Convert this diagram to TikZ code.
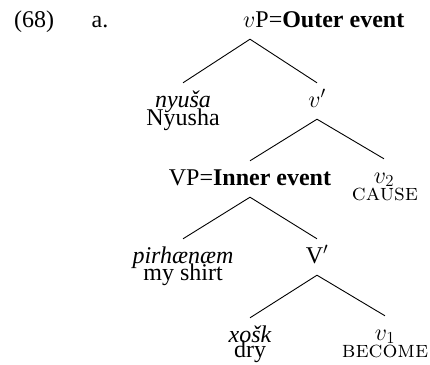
\documentclass[tikz,border=0pt]{standalone}
\usepackage{fix-cm}
\usepackage{fontspec}
\newfontfamily\tnr{Liberation Serif}
\usetikzlibrary{positioning}

\begin{document}
\begin{tikzpicture}[x=1pt, y=-1pt,
  lbl/.style={inner sep=0pt, anchor=base, font=\tnr\fontsize{24}{27}\selectfont},
  cat/.style={lbl, text height=24pt, text depth=12pt},
  gl/.style={lbl, font=\fontsize{23.5}{26}\selectfont\scshape},
  branch/.style={line width=0.9pt}]

\useasboundingbox (0,0) rectangle (430,364);

% example number
\node[lbl] (exno) at (34,27) {(68)};
\node[lbl] (exsub) at (100,27) {a.};

% upper shell
\node[cat] (vP) at (256,27) {$v$P\rlap{=\textbf{Outer event}}};
\node[cat] (subj) at (183,107) {\itshape nyu\v{s}a};
\node[lbl] (subjgl) at (183,125) {Nyusha};
\node[cat] (vbar) at (317,107) {$v'$};

% inner event
\node[cat] (VP) at (250,185) {VP=\textbf{Inner event}};
\node[cat] (vtwo) at (384,183) {$v_2$};
\node[gl] (vtwogl) at (385,200) {cause};
\node[cat] (obj) at (183,263) {\itshape pirh\ae n\ae m};
\node[lbl] (objgl) at (183,280) {my shirt};
\node[cat] (Vbar) at (317,263) {V$'$};
\node[cat] (root) at (250,342) {\itshape xo\v{s}k};
\node[lbl] (rootgl) at (250,357) {dry};
\node[cat] (vone) at (385,340) {$v_1$};
\node[gl] (vonegl) at (385,357) {become};

% branches
\draw[branch] ([xshift=-6pt]vP.south) -- (subj.north);
\draw[branch] ([xshift=-6pt]vP.south) -- (vbar.north);
\draw[branch] (vbar.south) -- (VP.north);
\draw[branch] (vbar.south) -- (vtwo.north);
\draw[branch] (VP.south) -- (obj.north);
\draw[branch] (VP.south) -- (Vbar.north);
\draw[branch] (Vbar.south) -- (root.north);
\draw[branch] (Vbar.south) -- (vone.north);

\end{tikzpicture}
\end{document}
